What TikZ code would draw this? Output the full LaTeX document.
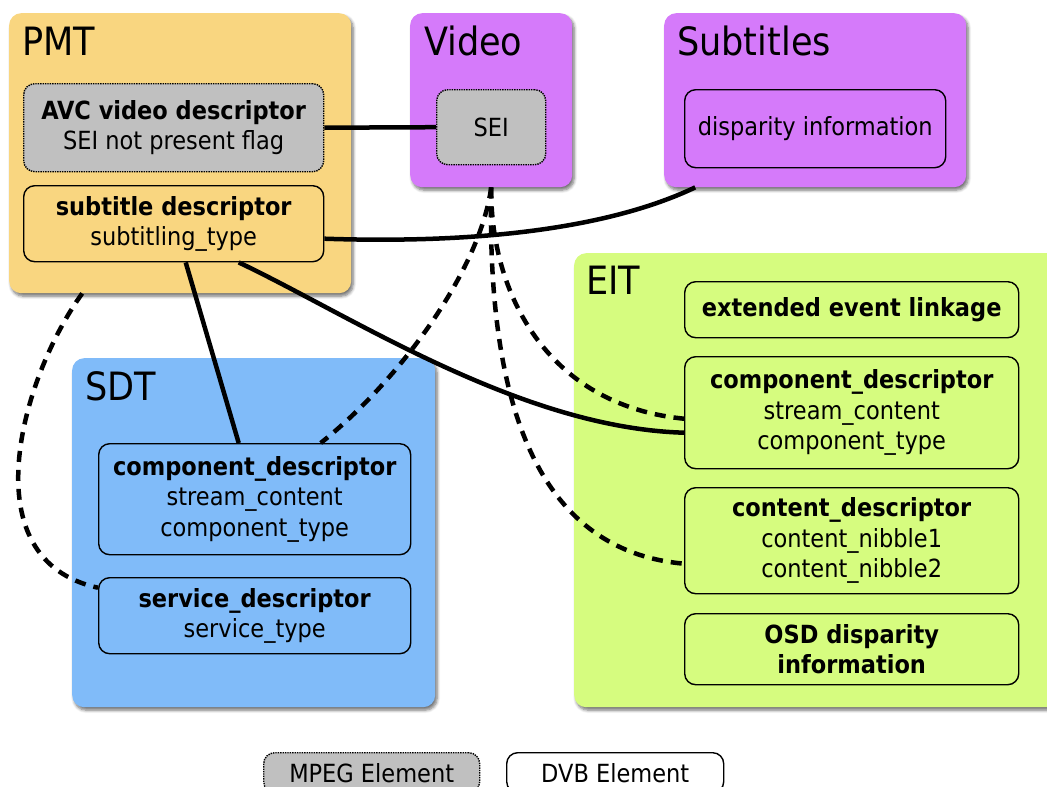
\documentclass[tikz,border=0pt]{standalone}
\usepackage{fontspec}
\setmainfont{DejaVu Sans Condensed}
\usetikzlibrary{shadows.blur}
\definecolor{pmtorange}{RGB}{249,214,128}
\definecolor{videopurple}{RGB}{213,122,250}
\definecolor{sdtblue}{RGB}{128,187,249}
\definecolor{eitgreen}{RGB}{214,252,127}
\definecolor{mpeggray}{RGB}{192,192,192}

\begin{document}
\begin{tikzpicture}[x=1pt, y=-1pt,
  group/.style={rounded corners=12pt, anchor=north west, inner sep=0pt,
    blur shadow={shadow xshift=2pt, shadow yshift=-3pt, shadow blur steps=6, shadow blur radius=3pt, shadow opacity=55}},
  grouptitle/.style={anchor=base west, inner sep=0pt, font=\fontsize{39}{42}\selectfont},
  dvb/.style={draw, line width=1.4pt, rounded corners=11pt, anchor=north west, align=center, inner sep=0pt, font=\fontsize{25}{30.5}\selectfont},
  mpeg/.style={dvb, densely dotted, fill=mpeggray},
  link/.style={line width=4.5pt},
  optlink/.style={line width=4.5pt, dash pattern=on 11pt off 8pt}]
\useasboundingbox (0,0) rectangle (1047,787);
% Draw table boxes
\node[group, fill=pmtorange, minimum width=342pt, minimum height=280pt] (pmt) at (9,13) {};
\node[group, fill=videopurple, minimum width=162pt, minimum height=174pt] (video) at (410,13) {};
\node[group, fill=videopurple, minimum width=302pt, minimum height=174pt] (subtitles) at (664,13) {};
\node[group, fill=sdtblue, minimum width=363pt, minimum height=349pt] (sdt) at (72,358) {};
\node[group, fill=eitgreen, minimum width=490pt, minimum height=454pt] (eit) at (574,253) {};
\node[grouptitle] (pmttitle) at (22,55) {PMT};
\node[grouptitle] (videotitle) at (424,55) {Video};
\node[grouptitle] (subtitlestitle) at (677,55) {Subtitles};
\node[grouptitle] (sdttitle) at (85,400) {SDT};
\node[grouptitle] (eittitle) at (586,294) {EIT};
% Draw descriptors
\node[mpeg, minimum width=300pt, minimum height=88pt] (avc) at (23,83) {\textbf{AVC video descriptor}\\SEI not present flag};
\node[dvb, fill=pmtorange, minimum width=300pt, minimum height=76pt] (subdesc) at (23,185) {\textbf{subtitle descriptor}\\subtitling\_type};
\node[mpeg, minimum width=109pt, minimum height=75pt] (sei) at (436,89) {SEI};
\node[dvb, fill=videopurple, minimum width=261pt, minimum height=78pt] (disparity) at (684,89) {disparity information};
\node[dvb, fill=sdtblue, minimum width=312pt, minimum height=111pt] (sdtcomp) at (98,443) {\textbf{component\_descriptor}\\stream\_content\\component\_type};
\node[dvb, fill=sdtblue, minimum width=312pt, minimum height=76pt] (servicedesc) at (98,577) {\textbf{service\_descriptor}\\service\_type};
\node[dvb, fill=eitgreen, minimum width=334pt, minimum height=56pt] (linkage) at (684,281) {\textbf{extended event linkage}};
\node[dvb, fill=eitgreen, minimum width=334pt, minimum height=112pt] (eitcomp) at (684,356) {\textbf{component\_descriptor}\\stream\_content\\component\_type};
\node[dvb, fill=eitgreen, minimum width=334pt, minimum height=106pt] (contentdesc) at (684,487) {\textbf{content\_descriptor}\\content\_nibble1\\content\_nibble2};
\node[dvb, fill=eitgreen, minimum width=334pt, minimum height=71pt] (osd) at (684,613) {\textbf{OSD disparity}\\\textbf{information}};
% Draw legend
\node[mpeg, minimum width=216pt, minimum height=40pt] (mpegkey) at (263,752) {MPEG Element};
\node[dvb, minimum width=217pt, minimum height=40pt] (dvbkey) at (506,752) {DVB Element};
% Draw links
\draw[link] (avc.east) -- (sei.west);
\draw[link] ([yshift=-15pt]subdesc.east) .. controls (480,244) and (610,228) .. ([xshift=-120pt]subtitles.south);
\draw[link] ([xshift=12pt]subdesc.south) -- ([xshift=-16pt]sdtcomp.north);
\draw[link] ([xshift=65pt]subdesc.south) .. controls (350,315) and (520,428) .. ([yshift=-20pt]eitcomp.west);
\draw[optlink] ([xshift=-98pt]pmt.south) .. controls (20,380) and (-30,560) .. ([yshift=28pt]servicedesc.west);
\draw[optlink] (video.south) .. controls (480,270) and (400,380) .. ([xshift=66pt]sdtcomp.north);
\draw[optlink] (video.south) .. controls (490,290) and (545,405) .. ([yshift=-6pt]eitcomp.west);
\draw[optlink] (video.south) .. controls (487,390) and (530,550) .. ([yshift=-23pt]contentdesc.west);
\end{tikzpicture}
\end{document}
